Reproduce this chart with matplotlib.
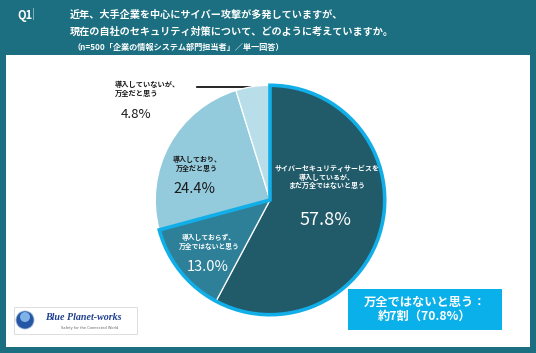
import matplotlib
matplotlib.use("Agg")
import matplotlib.pyplot as plt
from matplotlib.patches import Rectangle, Wedge, Circle

plt.rcParams['font.family'] = ['Noto Sans CJK JP', 'DejaVu Sans']

# ---- data ----
categories = [
    "サイバーセキュリティサービスを\n導入しているが、\nまだ万全ではないと思う",
    "導入しておらず、\n万全ではないと思う",
    "導入しており、\n万全だと思う",
    "導入していないが、\n万全だと思う",
]
values = [57.8, 13.0, 24.4, 4.8]
value_labels = ["57.8%", "13.0%", "24.4%", "4.8%"]
colors = ["#215a69", "#2e8098", "#93cbdc", "#b8dfe9"]
title_lines = ["近年、大手企業を中心にサイバー攻撃が多発していますが、",
               "現在の自社のセキュリティ対策について、どのように考えていますか。"]
subtitle = "（n=500「企業の情報システム部門担当者」／単一回答）"
callout = "万全ではないと思う：\n約7割（70.8%）"

W, H = 536, 353
fig = plt.figure(figsize=(W / 100, H / 100), dpi=100)
fig.patch.set_facecolor("#1b6f80")

def pixel_axes():
    a = fig.add_axes([0, 0, 1, 1])
    a.set_xlim(0, W)
    a.set_ylim(H, 0)
    a.axis("off")
    a.patch.set_alpha(0)
    return a

# background / decoration axes in pixel coords
bg = pixel_axes()
bg.add_patch(Rectangle((6, 55), 524, 292, facecolor="white", edgecolor="none"))

bg.text(17, 15, "Q1", color="white", fontsize=8, fontweight="bold", va="center", ha="left")
bg.text(32, 14, "|", color="#9fc4cc", fontsize=8, va="center", ha="left")
bg.text(70, 15, title_lines[0], color="white", fontsize=7.3, fontweight="bold", va="center", ha="left")
bg.text(70, 32, title_lines[1], color="white", fontsize=7.3, fontweight="bold", va="center", ha="left")
bg.text(73, 47, subtitle, color="white", fontsize=5.9, fontweight="bold", va="center", ha="left")

# callout box
bg.add_patch(Rectangle((348, 289), 154, 41, facecolor="#0ab0ea", edgecolor="none"))
bg.text(425, 309.5, callout, color="white", fontsize=8.8, fontweight="bold",
        va="center", ha="center", linespacing=1.15)

# logo
bg.add_patch(Rectangle((14, 307), 123, 27, facecolor="white", edgecolor="#d8d8d8", lw=0.6))
bg.add_patch(Circle((25, 320), 9, facecolor="#2556a3", edgecolor="#9ab4d8", lw=0.6))
bg.add_patch(Circle((25, 317), 5, facecolor="#7fb2e6", edgecolor="none"))
bg.text(45, 317, "Blue Planet-works", color="#1f3f8f", fontsize=7.2, fontweight="bold",
        fontstyle="italic", family=["Liberation Serif", "DejaVu Serif"], va="center", ha="left")
bg.text(90, 327.5, "Safety for the Connected World", color="#666666", fontsize=2.6,
        va="center", ha="center", family=["DejaVu Sans"])

# line for 4.8% label
bg.plot([197, 255], [87, 87], color="black", lw=1.2)

# pie axes
cx, cy, r = 270, 200, 117
pax = fig.add_axes([(cx - r) / W, (H - cy - r) / H, 2 * r / W, 2 * r / H])
pax.axis("off")
pax.patch.set_alpha(0)
wedges, _ = pax.pie(values, colors=colors, startangle=90, counterclock=False, radius=1,
                    wedgeprops=dict(edgecolor="white", linewidth=0.9))
pax.set_xlim(-1.02, 1.02)
pax.set_ylim(-1.02, 1.02)

# highlight outline of the "not secure" share (first two slices)
share = sum(values[:2])
theta1 = 90 - share / sum(values) * 360
pax.add_patch(Wedge((0, 0), 1.0, theta1, 90, facecolor="none", edgecolor="#12aee8", lw=2.6))

# labels overlay (pixel coords)
ov = pixel_axes()
ov.text(327, 177, categories[0], color="white", fontsize=5.0, fontweight="bold",
        ha="center", va="center", linespacing=1.25)
ov.text(326, 220, value_labels[0], color="white", fontsize=13, ha="center", va="center")
ov.text(209, 242, categories[1], color="white", fontsize=4.9, fontweight="bold",
        ha="center", va="center", linespacing=1.25)
ov.text(208, 267, value_labels[1], color="white", fontsize=10.5, ha="center", va="center")
ov.text(197, 164, categories[2], color="#1a1a1a", fontsize=5.0, fontweight="bold",
        ha="center", va="center", linespacing=1.25)
ov.text(194, 189, value_labels[2], color="#1a1a1a", fontsize=10.5, ha="center", va="center")
ov.text(115, 89, categories[3], color="#1a1a1a", fontsize=5.2, fontweight="bold",
        ha="left", va="center", linespacing=1.25)
ov.text(121, 115, value_labels[3], color="#1a1a1a", fontsize=9.5, ha="left", va="center")

fig.savefig("out.png", dpi=100)
